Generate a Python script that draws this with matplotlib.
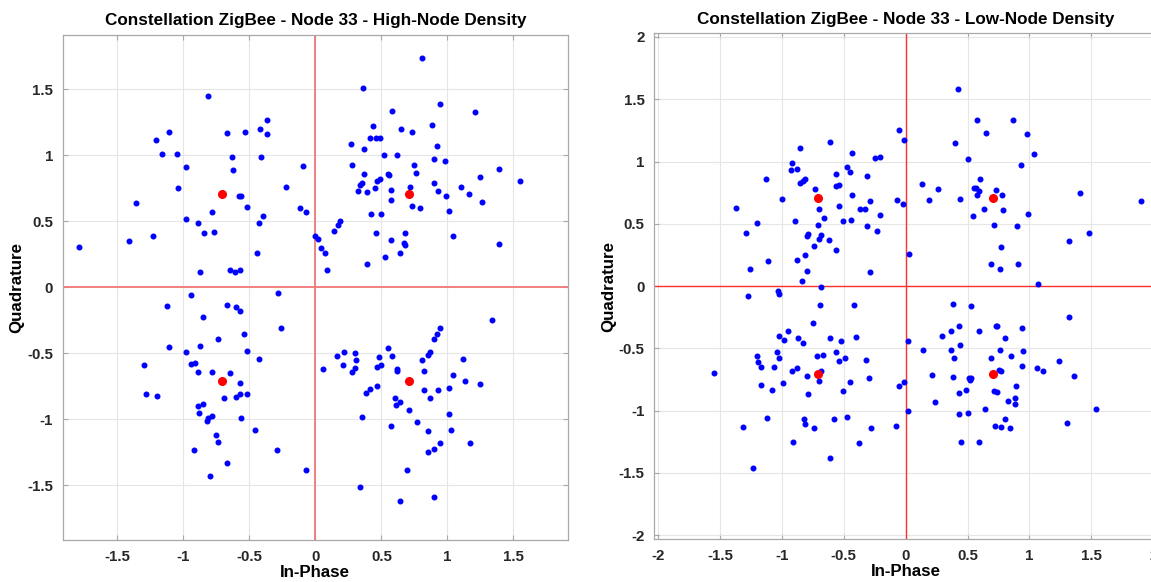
import numpy as np
import matplotlib
matplotlib.use("Agg")
import matplotlib.pyplot as plt

plt.rcParams['font.family'] = ['Liberation Sans', 'DejaVu Sans']

# Mæligildi (I, Q) - High-Node Density, eftir fjórðungum
hi_q2 = [(-0.81,1.45),(-0.67,1.17),(-0.53,1.18),(-0.42,1.20),(-0.37,1.27),(-0.37,1.16),(-1.11,1.18),(-1.21,1.12),
         (-1.16,1.01),(-1.05,1.01),(-0.63,0.99),(-0.41,0.99),(-0.98,0.91),(-0.62,0.89),(-0.09,0.92),(-1.04,0.75),
         (-0.22,0.76),(-0.58,0.69),(-0.56,0.69),(-0.52,0.61),(-1.36,0.64),(-0.78,0.57),(-0.12,0.60),(-0.07,0.57),
         (-0.98,0.52),(-0.89,0.49),(-0.40,0.54),(-0.43,0.49),(-0.84,0.41),(-0.77,0.42),(-1.41,0.35),(-1.23,0.39),
         (-1.79,0.31),(-0.44,0.26),(-0.87,0.12),(-0.65,0.13),(-0.61,0.12),(-0.57,0.13)]
hi_q1 = [(0.81,1.74),(0.36,1.51),(0.94,1.39),(0.58,1.34),(1.21,1.33),(0.44,1.22),(0.65,1.20),(0.73,1.18),(0.88,1.23),
         (0.27,1.09),(0.41,1.13),(0.46,1.13),(0.49,1.13),(0.37,1.05),(0.92,1.07),(0.52,1.00),(0.62,1.00),(0.90,0.97),
         (0.98,0.96),(0.28,0.93),(0.75,0.93),(1.39,0.90),(0.37,0.86),(0.55,0.86),(0.56,0.85),(0.76,0.87),(1.25,0.84),
         (0.49,0.82),(0.47,0.81),(0.35,0.79),(0.34,0.78),(0.90,0.79),(1.55,0.81),(0.72,0.76),(0.45,0.75),(0.57,0.74),
         (0.93,0.73),(1.10,0.76),(0.32,0.73),(0.39,0.72),(0.99,0.69),(1.16,0.71),(0.57,0.66),(1.26,0.65),(0.73,0.62),
         (0.79,0.60),(1.01,0.58),(0.42,0.56),(0.50,0.56),(0.19,0.50),(0.17,0.47),(0.14,0.43),(0.00,0.39),(0.02,0.37),
         (0.04,0.30),(0.07,0.26),(0.09,0.13),(0.46,0.41),(0.68,0.41),(0.57,0.36),(1.04,0.39),(1.39,0.33),(0.67,0.34),
         (0.68,0.32),(0.64,0.26),(0.53,0.23),(0.39,0.18)]
hi_q3 = [(-0.94,-0.06),(-0.28,-0.04),(-1.12,-0.14),(-0.67,-0.13),(-0.60,-0.15),(-0.57,-0.18),(-0.85,-0.22),
         (-0.26,-0.31),(-0.54,-0.35),(-0.74,-0.39),(-1.11,-0.45),(-0.87,-0.44),(-0.98,-0.49),(-0.52,-0.48),
         (-1.30,-0.59),(-0.43,-0.54),(-0.94,-0.58),(-0.91,-0.57),(-0.89,-0.64),(-0.78,-0.64),(-0.65,-0.65),
         (-0.57,-0.72),(-1.28,-0.81),(-1.20,-0.82),(-0.69,-0.84),(-0.60,-0.83),(-0.57,-0.81),(-0.52,-0.81),
         (-0.85,-0.88),(-0.89,-0.90),(-0.88,-0.95),(-0.78,-0.97),(-0.81,-0.99),(-0.82,-1.01),(-0.56,-0.99),
         (-0.46,-1.08),(-0.75,-1.12),(-0.74,-1.17),(-0.92,-1.23),(-0.29,-1.23),(-0.67,-1.33),(-0.07,-1.38),(-0.80,-1.43)]
hi_q4 = [(1.34,-0.25),(0.94,-0.31),(0.92,-0.35),(0.90,-0.39),(0.87,-0.49),(0.85,-0.51),(0.81,-0.55),(0.82,-0.63),
         (1.12,-0.54),(1.04,-0.66),(1.13,-0.71),(1.25,-0.73),(1.01,-0.76),(0.93,-0.78),(0.82,-0.78),(0.87,-0.84),
         (0.55,-0.46),(0.58,-0.52),(0.48,-0.53),(0.50,-0.59),(0.47,-0.60),(0.62,-0.62),(0.62,-0.63),(0.30,-0.50),
         (0.31,-0.55),(0.30,-0.61),(0.28,-0.64),(0.22,-0.49),(0.16,-0.52),(0.21,-0.59),(0.06,-0.62),(0.47,-0.75),
         (0.41,-0.77),(0.38,-0.80),(0.60,-0.84),(0.64,-0.87),(0.61,-0.89),(0.71,-0.93),(0.35,-0.98),(0.77,-1.02),
         (1.01,-0.96),(0.57,-1.05),(0.85,-1.09),(1.03,-1.08),(0.94,-1.18),(0.90,-1.22),(0.85,-1.25),(1.17,-1.18),
         (0.69,-1.38),(0.34,-1.51),(0.64,-1.62),(0.90,-1.59)]

# Mæligildi (I, Q) - Low-Node Density
lo_q2 = [(-0.05,1.25),(-0.01,1.17),(-0.61,1.16),(-0.85,1.11),(-0.43,1.07),(-0.25,1.03),(-0.21,1.04),(-0.92,0.99),
         (-0.47,0.96),(-0.93,0.93),(-0.88,0.94),(-0.45,0.92),(-0.56,0.90),(-0.31,0.88),(-1.13,0.86),(-0.81,0.86),
         (-0.83,0.84),(-0.85,0.83),(-0.73,0.78),(-0.56,0.80),(-0.54,0.81),(-0.43,0.73),(-1.00,0.70),(-0.07,0.69),
         (-0.02,0.66),(-0.29,0.68),(-0.54,0.64),(-0.37,0.62),(-0.33,0.62),(-0.70,0.62),(-1.37,0.63),(-0.66,0.55),
         (-0.21,0.57),(-1.20,0.51),(-0.89,0.52),(-0.51,0.52),(-0.44,0.53),(-0.71,0.49),(-0.31,0.48),(-1.29,0.43),
         (-0.23,0.44),(-0.79,0.42),(-0.80,0.40),(-0.68,0.41),(-0.70,0.38),(-0.62,0.37),(-0.74,0.32),(-0.56,0.29),
         (0.03,0.26),(-0.88,0.21),(-0.81,0.25),(-1.11,0.20),(-1.26,0.14),(-0.80,0.12),(-0.29,0.11),(-0.84,0.04)]
lo_q1 = [(0.42,1.58),(0.58,1.33),(0.87,1.33),(0.65,1.23),(0.98,1.22),(0.40,1.15),(1.04,1.06),(0.50,1.02),(0.93,0.97),
         (0.60,0.86),(0.13,0.82),(0.26,0.78),(0.55,0.79),(0.57,0.79),(0.73,0.77),(0.59,0.76),(0.58,0.73),(0.78,0.73),
         (0.19,0.69),(0.44,0.70),(1.41,0.75),(1.90,0.68),(0.63,0.62),(0.79,0.61),(0.54,0.56),(0.99,0.58),(0.71,0.49),
         (0.90,0.48),(1.48,0.43),(1.32,0.36),(0.77,0.31),(0.69,0.18),(0.76,0.14),(0.91,0.18),(1.07,0.02)]
lo_q3 = [(-0.68,-0.01),(-1.27,-0.08),(-1.03,-0.04),(-1.02,-0.06),(-0.69,-0.15),(-0.42,-0.15),(-0.75,-0.30),
         (-0.95,-0.36),(-1.02,-0.40),(-0.98,-0.43),(-0.87,-0.42),(-0.83,-0.46),(-0.61,-0.42),(-0.52,-0.44),
         (-0.40,-0.41),(0.02,-0.44),(-1.20,-0.56),(-1.04,-0.53),(-1.19,-0.61),(-1.17,-0.65),(-1.02,-0.58),
         (-1.06,-0.65),(-0.72,-0.56),(-0.67,-0.55),(-0.56,-0.53),(-0.54,-0.60),(-0.49,-0.58),(-0.32,-0.59),
         (-0.92,-0.68),(-0.88,-0.66),(-0.80,-0.72),(-0.68,-0.68),(-0.70,-0.76),(-1.55,-0.70),(-1.17,-0.79),
         (-1.08,-0.83),(-0.99,-0.78),(-0.79,-0.87),(-0.45,-0.77),(-0.51,-0.84),(-0.30,-0.74),(-0.05,-0.80),
         (-0.01,-0.77),(0.02,-1.00),(-1.12,-1.06),(-1.31,-1.13),(-0.82,-1.07),(-0.81,-1.11),(-0.74,-1.14),
         (-0.58,-1.07),(-0.47,-1.05),(-0.28,-1.14),(-0.08,-1.12),(-0.91,-1.25),(-0.38,-1.26),(-0.61,-1.38),(-1.23,-1.46)]
lo_q4 = [(0.38,-0.14),(0.53,-0.16),(1.32,-0.25),(0.43,-0.32),(0.73,-0.32),(0.74,-0.32),(0.37,-0.36),(0.59,-0.36),
         (0.94,-0.34),(0.29,-0.40),(0.80,-0.42),(0.44,-0.47),(0.14,-0.51),(0.37,-0.51),(0.76,-0.51),(0.95,-0.52),
         (0.85,-0.56),(0.39,-0.58),(0.69,-0.58),(1.24,-0.60),(0.94,-0.64),(1.06,-0.66),(1.11,-0.68),(0.75,-0.67),
         (0.77,-0.68),(0.21,-0.71),(0.38,-0.73),(0.51,-0.74),(0.52,-0.75),(0.53,-0.74),(1.36,-0.72),(0.89,-0.80),
         (0.49,-0.83),(0.71,-0.84),(0.74,-0.85),(0.43,-0.86),(0.88,-0.90),(0.83,-0.92),(0.88,-0.95),(0.24,-0.93),
         (0.64,-0.99),(1.54,-0.99),(0.43,-1.03),(0.50,-1.02),(0.80,-1.07),(1.30,-1.10),(0.72,-1.12),(0.77,-1.13),
         (0.84,-1.14),(0.45,-1.25),(0.59,-1.25)]

# Kjörpunktar (QPSK)
ideal_i = [0.707, -0.707, -0.707, 0.707]
ideal_q = [0.707, 0.707, -0.707, -0.707]

titlar = ['Constellation ZigBee - Node 33 - High-Node Density',
          'Constellation ZigBee - Node 33 - Low-Node Density']
hi = np.array(hi_q2 + hi_q1 + hi_q3 + hi_q4)
lo = np.array(lo_q2 + lo_q1 + lo_q3 + lo_q4)

fig = plt.figure(figsize=(11.51, 5.82), dpi=100)
ax1 = fig.add_axes([0.0545, 0.0722, 0.439, 0.8677])
ax2 = fig.add_axes([0.5685, 0.0739, 0.4367, 0.869])

def teikna(ax, pts, titill, lim, ticks, ticklabels, linulitur, lw):
    ax.axhline(0, color=linulitur, lw=lw, zorder=1)
    ax.axvline(0, color=linulitur, lw=lw, zorder=1)
    ax.plot(pts[:, 0], pts[:, 1], 'o', color='blue', ms=3.3, mec='blue', zorder=3)
    ax.plot(ideal_i, ideal_q, 'o', color='red', ms=5.5, mec='red', zorder=4)
    ax.set_xlim(-lim, lim)
    ax.set_ylim(-lim, lim)
    ax.set_xticks(ticks)
    ax.set_xticklabels(ticklabels)
    ax.set_yticks(ticks)
    ax.set_yticklabels(ticklabels)
    ax.grid(True, color='#e6e6e6', lw=0.8)
    ax.set_axisbelow(True)
    for s in ax.spines.values():
        s.set_color('#a8a8a8')
        s.set_linewidth(0.9)
    ax.tick_params(direction='in', length=3.5, width=0.8, color='#a8a8a8', top=True, right=True,
                   labelsize=10.8, labelcolor='#262626', pad=7)
    for t in ax.get_xticklabels() + ax.get_yticklabels():
        t.set_fontweight('bold')
    ax.set_title(titill, fontsize=12.3, fontweight='bold', pad=7)
    ax.set_xlabel('In-Phase', fontsize=12.2, fontweight='bold', labelpad=1)
    ax.set_ylabel('Quadrature', fontsize=12.2, fontweight='bold', labelpad=2)

t1 = [-1.5, -1, -0.5, 0, 0.5, 1, 1.5]
tl1 = ['-1.5', '-1', '-0.5', '0', '0.5', '1', '1.5']
t2 = [-2, -1.5, -1, -0.5, 0, 0.5, 1, 1.5, 2]
tl2 = ['-2', '-1.5', '-1', '-0.5', '0', '0.5', '1', '1.5', '2']

teikna(ax1, hi, titlar[0], 1.913, t1, tl1, '#f07878', 1.3)
teikna(ax2, lo, titlar[1], 2.03, t2, tl2, '#ff3030', 1.0)

fig.savefig('out.png', dpi=100)
